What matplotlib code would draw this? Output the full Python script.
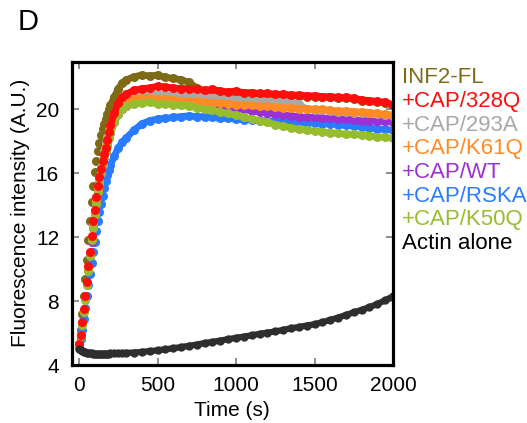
import matplotlib
matplotlib.use("Agg")
import matplotlib.pyplot as plt

plt.rcParams["font.family"] = ["Liberation Sans", "DejaVu Sans"]

# time points (s)
time_s = [0, 10, 20, 30, 40, 50, 60, 70, 80, 90, 100, 110, 120, 130, 140, 150,
          160, 170, 180, 190, 200, 225, 250, 275,
          300, 350, 400, 450, 500, 550, 600, 650, 700, 750,
          800, 850, 900, 950, 1000, 1050, 1100, 1150, 1200, 1250,
          1300, 1350, 1400, 1450, 1500, 1550, 1600, 1650, 1700, 1750,
          1800, 1850, 1900, 1950, 2000]

inf2_fl = [5.3, 6.2, 7.2, 8.3, 9.4, 10.6, 11.8, 13.0, 14.2, 15.2, 16.1, 16.8, 17.4, 17.9, 18.4, 18.8,
           19.1, 19.4, 19.7, 20.0, 20.25, 20.8, 21.3, 21.65,
           21.85, 22.05, 22.15, 22.1, 22.15, 22.0, 21.95, 21.85, 21.7, 21.35,
           21.15, 21.15, 21.1, 21.05, 21.05, 21.0, 21.0, 20.95, 20.95, 20.9,
           20.9, 20.85, 20.85, 20.8, 20.8, 20.75, 20.75, 20.7, 20.7, 20.65,
           20.55, 20.5, 20.45, 20.4, 20.25]

cap_328q = [5.3, 5.9, 6.7, 7.5, 8.3, 9.2, 10.2, 11.1, 12.1, 13.0, 13.7, 14.5, 15.2, 15.8, 16.3, 16.8,
            17.2, 17.6, 18.1, 18.6, 19.0, 19.8, 20.4, 20.75,
            20.95, 21.2, 21.3, 21.35, 21.45, 21.4, 21.35, 21.3, 21.3, 21.25,
            21.2, 21.25, 21.15, 21.1, 21.15, 21.05, 21.05, 21.0, 21.0, 20.95,
            20.95, 20.9, 20.9, 20.85, 20.85, 20.8, 20.8, 20.75, 20.75, 20.7,
            20.6, 20.55, 20.5, 20.45, 20.3]

cap_293a = [5.2, 5.9, 6.6, 7.4, 8.2, 9.1, 10.0, 11.0, 11.9, 12.8, 13.6, 14.4, 15.1, 15.8, 16.4, 16.9,
            17.4, 17.9, 18.3, 18.7, 19.0, 19.7, 20.2, 20.5,
            20.7, 20.85, 20.9, 20.95, 20.95, 20.9, 20.9, 20.85, 20.85, 20.8,
            20.75, 20.75, 20.7, 20.65, 20.65, 20.6, 20.6, 20.55, 20.55, 20.5,
            20.5, 20.45, 20.35, 20.0, 19.95, 19.95, 19.9, 19.85, 19.85, 19.8,
            19.8, 19.75, 19.7, 19.65, 19.6]

cap_k61q = [5.3, 5.9, 6.6, 7.4, 8.2, 9.1, 10.0, 10.9, 11.9, 12.7, 13.5, 14.3, 15.0, 15.6, 16.2, 16.8,
            17.3, 17.7, 18.1, 18.5, 18.8, 19.5, 20.0, 20.3,
            20.5, 20.65, 20.7, 20.7, 20.65, 20.65, 20.6, 20.55, 20.5, 20.5,
            20.45, 20.4, 20.4, 20.35, 20.3, 20.3, 20.25, 20.2, 20.2, 20.15,
            20.1, 20.1, 20.05, 20.05, 20.0, 20.0, 19.95, 19.9, 19.9, 19.85,
            19.85, 19.8, 19.75, 19.7, 19.65]

cap_wt = [5.3, 5.9, 6.6, 7.4, 8.2, 9.1, 10.0, 10.8, 11.7, 12.6, 13.4, 14.1, 14.8, 15.4, 16.0, 16.5,
          17.0, 17.4, 17.8, 18.2, 18.5, 19.2, 19.7, 20.0,
          20.2, 20.4, 20.5, 20.5, 20.5, 20.5, 20.45, 20.4, 20.35, 20.3,
          20.25, 20.2, 20.15, 20.1, 20.05, 20.0, 19.9, 19.85, 19.8, 19.7,
          19.65, 19.6, 19.55, 19.5, 19.5, 19.45, 19.45, 19.4, 19.4, 19.35,
          19.3, 19.3, 19.25, 19.25, 19.2]

cap_rska = [5.1, 5.6, 6.2, 6.9, 7.6, 8.3, 9.0, 9.7, 10.4, 11.1, 11.7, 12.4, 13.0, 13.55, 14.1, 14.6,
            15.05, 15.5, 15.9, 16.2, 16.5, 17.1, 17.6, 17.95,
            18.2, 18.7, 19.1, 19.3, 19.4, 19.45, 19.5, 19.55, 19.6, 19.55,
            19.55, 19.5, 19.45, 19.45, 19.4, 19.35, 19.35, 19.3, 19.3, 19.25,
            19.25, 19.2, 19.2, 19.15, 19.15, 19.1, 19.1, 19.05, 19.0, 18.95,
            18.9, 18.85, 18.8, 18.75, 18.7]

cap_k50q = [5.2, 5.8, 6.5, 7.3, 8.1, 9.0, 9.9, 10.8, 11.8, 12.6, 13.4, 14.1, 14.8, 15.4, 16.0, 16.5,
            17.0, 17.4, 17.8, 18.2, 18.5, 19.2, 19.7, 20.0,
            20.2, 20.35, 20.4, 20.45, 20.35, 20.35, 20.3, 20.25, 20.2, 20.1,
            20.0, 19.95, 19.85, 19.75, 19.65, 19.5, 19.4, 19.3, 19.2, 19.05,
            18.95, 18.85, 18.75, 18.7, 18.65, 18.6, 18.55, 18.5, 18.45, 18.45,
            18.4, 18.35, 18.3, 18.25, 18.2]

actin_alone = [5.0, 4.92, 4.86, 4.82, 4.79, 4.77, 4.75, 4.74, 4.73, 4.72, 4.72, 4.71, 4.71, 4.71, 4.71, 4.71,
               4.72, 4.72, 4.72, 4.72, 4.73, 4.73, 4.74, 4.75,
               4.76, 4.78, 4.82, 4.87, 4.92, 4.98, 5.05, 5.12, 5.2, 5.28,
               5.37, 5.45, 5.53, 5.62, 5.7, 5.78, 5.86, 5.95, 6.03, 6.1,
               6.2, 6.3, 6.38, 6.47, 6.55, 6.68, 6.82, 6.97, 7.13, 7.3,
               7.45, 7.62, 7.82, 8.05, 8.3]

labels = ["INF2-FL", "+CAP/328Q", "+CAP/293A", "+CAP/K61Q", "+CAP/WT",
          "+CAP/RSKA", "+CAP/K50Q", "Actin alone"]
colors = ["#7d6a16", "#ff0d0d", "#a8a8a8", "#ff8a26", "#9a30d6",
          "#2a7cff", "#97bd2e", "#2e2e2e"]
text_colors = ["#7d6a16", "#ff0d0d", "#a8a8a8", "#ff8a26", "#9a30d6",
               "#2a7cff", "#97bd2e", "#000000"]

series = {
    "INF2-FL": inf2_fl,
    "+CAP/328Q": cap_328q,
    "+CAP/293A": cap_293a,
    "+CAP/K61Q": cap_k61q,
    "+CAP/WT": cap_wt,
    "+CAP/RSKA": cap_rska,
    "+CAP/K50Q": cap_k50q,
    "Actin alone": actin_alone,
}
color_of = dict(zip(labels, colors))

fig = plt.figure(figsize=(5.27, 4.23), dpi=100)
ax = fig.add_axes([0.1357, 0.1371, 0.61, 0.7175])

# the dense plateau sampling reads as a continuous band, so join the later points
band_start = 20  # index of t = 200 s

# drawing order (bottom to top)
draw_order = ["INF2-FL", "+CAP/RSKA", "+CAP/WT", "+CAP/293A", "+CAP/K61Q",
              "+CAP/K50Q", "+CAP/328Q", "Actin alone"]
for name in draw_order:
    ms = 6.0 if name == "Actin alone" else 6.5
    ax.plot(time_s[band_start:], series[name][band_start:], linestyle="-",
            linewidth=ms * 0.75, color=color_of[name], solid_capstyle="round")
    ax.plot(time_s, series[name], linestyle="none", marker="o", markersize=ms,
            markeredgewidth=0, color=color_of[name])

ax.set_xlim(-48, 2000)
ax.set_ylim(4, 23)
ax.set_xticks([0, 500, 1000, 1500, 2000])
ax.set_yticks([4, 8, 12, 16, 20])

for sp in ax.spines.values():
    sp.set_linewidth(2.3)
    sp.set_color("black")

ax.tick_params(direction="in", length=5, width=1.2, color="#7a7a7a",
               top=True, right=True, labelsize=15, labelcolor="black")
ax.tick_params(axis="x", pad=8)
ax.tick_params(axis="y", pad=9)

ax.set_xlabel("Time (s)", fontsize=15, labelpad=4)
ax.set_ylabel("Fluorescence intensity (A.U.)", fontsize=15, labelpad=4)

# legend as coloured text
for i, (lab, col) in enumerate(zip(labels, text_colors)):
    fig.text(0.763, 0.803 - i * 0.056, lab, color=col, fontsize=16,
             ha="left", va="baseline")

fig.text(0.033, 0.949, "D", fontsize=21, ha="left", va="center")

fig.savefig("out.png", dpi=100)
